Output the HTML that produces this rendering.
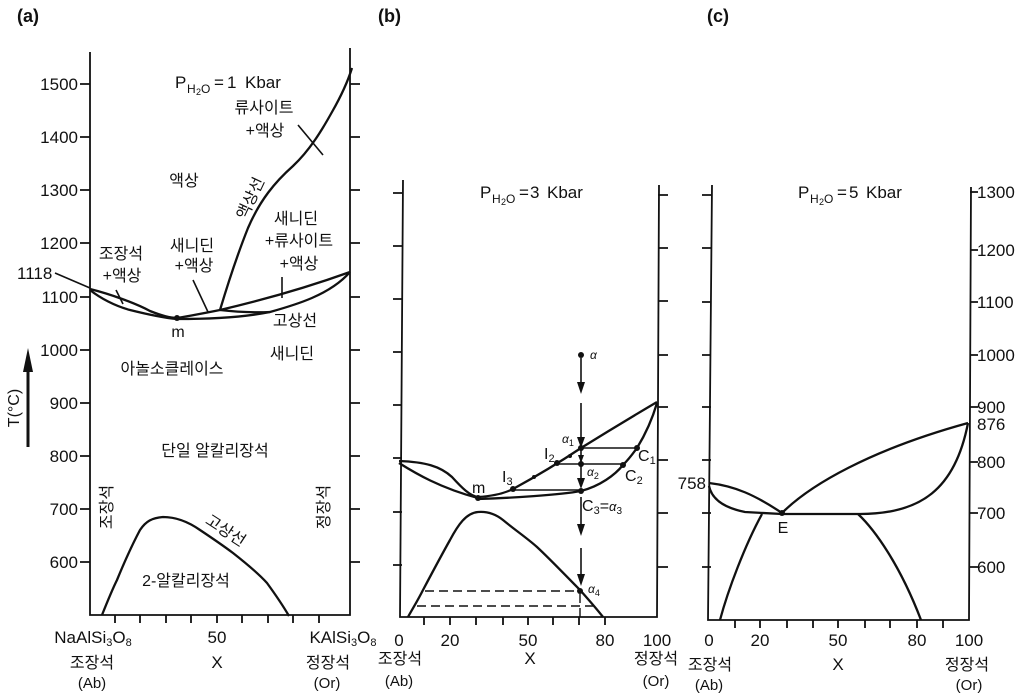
<!DOCTYPE html>
<html><head><meta charset="utf-8"><style>
html,body{margin:0;padding:0;background:#fff;}
svg{display:block;}
text{font-family:"Liberation Sans","Noto Sans CJK KR",sans-serif;fill:#111;}
.k{font-size:16px;}
.n{font-size:17px;}
</style></head><body>
<svg width="1024" height="700" viewBox="0 0 1024 700" xmlns="http://www.w3.org/2000/svg">
<rect width="1024" height="700" fill="#fff"/>

<!-- ===== Panel (a) ===== -->
<text x="17" y="22" font-size="18" font-weight="bold">(a)</text>
<g stroke="#111" fill="none" stroke-width="1.8">
  <path d="M90,52 L90,615 L350,615 L350,48"/>
  <path d="M80,84H90M80,137H90M80,190H90M80,243H90M80,297H90M80,350H90M80,403H90M80,456H90M80,509H90M80,562H90"/>
  <path d="M350,84H360M350,137H360M350,190H360M350,243H360M350,297H360M350,350H360M350,403H360M350,456H360M350,509H360M350,562H360"/>
  <path d="M115,615V623M140,615V623M166,615V623M191,615V623M217,615V623M242,615V623M268,615V623M293,615V623M319,615V623"/>
</g>
<g stroke="#111" fill="none" stroke-width="2.3">
  <path d="M90,289 C110,294 135,303 150,311 C160,315 170,318 177,318"/>
  <path d="M90,290 C100,298 115,306 130,310 C150,315 165,318 177,319"/>
  <path d="M177,318 C195,315 210,312 220,310 C250,303 300,290 350,272"/>
  <path d="M177,319 C205,319 240,318 270,312 C295,305 330,295 350,272"/>
  <path d="M220,310 Q245,313 270,312"/>
  <path d="M220,310 C226,290 236,258 248,228 C260,200 275,182 293,166 C310,150 322,130 332,112 C340,98 347,84 352,68"/>
  <path d="M102,615 C108,600 112,590 117,580 C124,563 132,545 140,530 C146,521 152,518 163,517 C178,517 190,523 200,530 C215,540 225,547 233,553 C247,564 258,573 267,583 C275,594 282,604 289,616"/>
</g>
<g stroke="#111" fill="none" stroke-width="1.6">
  <path d="M55,273 L90,288"/>
  <path d="M116,290 L123,304"/>
  <path d="M193,280 L208,312"/>
  <path d="M282,277 L282,298"/>
  <path d="M298,125 L323,155"/>
</g>
<circle cx="177" cy="318" r="3" fill="#111"/>

<g class="n" text-anchor="end">
  <text x="78" y="90">1500</text><text x="78" y="143">1400</text><text x="78" y="196">1300</text>
  <text x="78" y="249">1200</text><text x="78" y="303">1100</text><text x="78" y="356">1000</text>
  <text x="78" y="409">900</text><text x="78" y="462">800</text><text x="78" y="515">700</text>
  <text x="78" y="568">600</text>
</g>
<text class="n" x="17" y="279">1118</text>
<text font-size="16" transform="translate(19,408) rotate(-90)" text-anchor="middle">T(°C)</text>
<path d="M28,447 L28,368" stroke="#111" stroke-width="3"/>
<polygon points="23,372 33,372 28,348" fill="#111"/>

<g>
  <text x="175" y="88" font-size="17">P</text>
  <text x="187" y="93" font-size="12">H</text>
  <text x="196" y="95" font-size="9">2</text>
  <text x="201" y="93" font-size="12">O</text>
  <text x="214" y="88" font-size="17">=</text>
  <text x="227" y="88" font-size="17">1</text>
  <text x="245" y="88" font-size="17">Kbar</text>
</g>

<g class="k" text-anchor="middle">
  <text x="264" y="113">류사이트</text>
  <text x="265" y="136">+액상</text>
  <text x="184" y="186">액상</text>
  <text x="296" y="224">새니딘</text>
  <text x="299" y="246">+류사이트</text>
  <text x="299" y="269">+액상</text>
  <text x="121" y="259">조장석</text>
  <text x="122" y="281">+액상</text>
  <text x="192" y="251">새니딘</text>
  <text x="194" y="271">+액상</text>
  <text x="295" y="326">고상선</text>
  <text x="292" y="359">새니딘</text>
  <text x="172" y="374">아놀소클레이스</text>
  <text x="215" y="456">단일 알칼리장석</text>
  <text x="186" y="586">2-알칼리장석</text>
  <text transform="translate(250,198) rotate(-65)" dy="6">액상선</text>
  <text transform="translate(226,530) rotate(33)" dy="6">고상선</text>
  <text font-size="16" transform="translate(106,507) rotate(-90)" dy="6">조장석</text>
  <text font-size="16" transform="translate(323,507) rotate(-90)" dy="6">정장석</text>
</g>
<text x="178" y="337" font-size="16" text-anchor="middle">m</text>

<g class="n" text-anchor="middle">
  <text x="93" y="643">NaAlSi<tspan font-size="11" dy="3">3</tspan><tspan dy="-3">O</tspan><tspan font-size="11" dy="3">8</tspan></text>
  <text x="217" y="643">50</text>
  <text x="343" y="643">KAlSi<tspan font-size="11" dy="3">3</tspan><tspan dy="-3">O</tspan><tspan font-size="11" dy="3">8</tspan></text>
  <text x="217" y="668">X</text>
</g>
<g class="k" text-anchor="middle">
  <text x="92" y="668">조장석</text>
  <text x="328" y="668">정장석</text>
  <text x="92" y="688" font-size="15">(Ab)</text>
  <text x="327" y="688" font-size="15">(Or)</text>
</g>

<!-- ===== Panel (b) ===== -->
<text x="378" y="22" font-size="18" font-weight="bold">(b)</text>
<g stroke="#111" fill="none" stroke-width="1.8">
  <path d="M403,180 L400,617 L657,617 L659,185"/>
  <path d="M393,193H402M393,246H402M393,299H402M393,352H402M393,405H402M393,458H402M393,512H402M393,565H402"/>
  <path d="M658,195H668M658,248H668M658,301H668M658,355H668M658,407H668M658,460H668M658,513H668M658,567H668"/>
  <path d="M424,617V625M450,617V625M476,617V625M503,617V625M528,617V625M553,617V625M579,617V625M605,617V625"/>
</g>
<g stroke="#111" fill="none" stroke-width="2.3">
  <path d="M399,461 C425,462 440,466 452,477 C462,488 470,496 478,497"/>
  <path d="M399,463 C415,473 440,488 478,498"/>
  <path d="M478,497 C495,496 505,493 513,489 C535,477 560,462 581,448 C610,430 635,415 657,402"/>
  <path d="M478,499 C510,498 560,495 581,491 C600,486 615,475 623,465 C630,458 634,452 637,448 C645,435 652,420 657,403"/>
  <path d="M408,617 C413,608 418,600 423,590 C432,573 441,556 450,540 C458,525 466,513 478,512 C490,511 498,516 503,520 C515,530 527,538 537,547 C552,561 566,576 580,590 C588,599 596,608 603,617"/>
</g>
<g stroke="#111" fill="none" stroke-width="1.6">
  <path d="M581,448 L637,448"/>
  <path d="M557,464 L623,464"/>
  <path d="M513,490 L581,490"/>
  <path d="M581,358 L581,384"/>
  <path d="M581,403 L581,440"/>
  <path d="M581,450 L581,482"/>
  <path d="M581,497 L581,527"/>
  <path d="M581,548 L581,577"/>
</g>
<g stroke="#111" fill="none" stroke-width="1.4" stroke-dasharray="9,5">
  <path d="M580,594 L580,618"/>
  <path d="M425,591 L580,591"/>
  <path d="M417,606 L593,606"/>
</g>
<g fill="#111">
  <polygon points="577,382 585,382 581,394"/>
  <polygon points="577,437 585,437 581,448"/>
  <polygon points="578,455 584,455 581,463"/>
  <polygon points="577,478 585,478 581,489"/>
  <polygon points="577,524 585,524 581,536"/>
  <polygon points="577,574 585,574 581,586"/>
  <circle cx="581" cy="355" r="3"/>
  <circle cx="513" cy="489" r="3"/>
  <circle cx="557" cy="463" r="3"/>
  <circle cx="581" cy="448" r="3"/>
  <circle cx="581" cy="464" r="3"/>
  <circle cx="581" cy="491" r="3"/>
  <circle cx="623" cy="465" r="3"/>
  <circle cx="637" cy="448" r="3"/>
  <circle cx="478" cy="498" r="3"/>
  <circle cx="580" cy="591" r="3"/>
  <circle cx="534" cy="477" r="2"/>
  <circle cx="570" cy="456" r="2"/>
</g>
<g>
  <text x="480" y="198" font-size="17">P</text>
  <text x="492" y="203" font-size="12">H</text>
  <text x="501" y="205" font-size="9">2</text>
  <text x="506" y="203" font-size="12">O</text>
  <text x="519" y="198" font-size="17">=</text>
  <text x="530" y="198" font-size="17">3</text>
  <text x="547" y="198" font-size="17">Kbar</text>
</g>
<g font-size="12" font-style="italic">
  <text x="590" y="359">α</text>
  <text x="562" y="443">α<tspan font-size="9" dy="3" font-style="normal">1</tspan></text>
  <text x="587" y="476">α<tspan font-size="9" dy="3" font-style="normal">2</tspan></text>
  <text x="588" y="593">α<tspan font-size="9" dy="3" font-style="normal">4</tspan></text>
</g>
<g font-size="16">
  <text x="544" y="459">I<tspan font-size="11" dy="3">2</tspan></text>
  <text x="502" y="482">I<tspan font-size="11" dy="3">3</tspan></text>
  <text x="472" y="493">m</text>
  <text x="638" y="461">C<tspan font-size="11" dy="3">1</tspan></text>
  <text x="625" y="481">C<tspan font-size="11" dy="3">2</tspan></text>
  <text x="582" y="511">C<tspan font-size="11" dy="3">3</tspan><tspan dy="-3">=</tspan><tspan font-style="italic" font-size="13">α</tspan><tspan font-size="10" dy="3">3</tspan></text>
</g>
<g class="n" text-anchor="middle">
  <text x="399" y="646">0</text><text x="450" y="646">20</text><text x="528" y="646">50</text>
  <text x="605" y="646">80</text><text x="657" y="646">100</text>
  <text x="530" y="664">X</text>
</g>
<g class="k" text-anchor="middle">
  <text x="400" y="664">조장석</text>
  <text x="656" y="664">정장석</text>
  <text x="399" y="686" font-size="15">(Ab)</text>
  <text x="656" y="686" font-size="15">(Or)</text>
</g>

<!-- ===== Panel (c) ===== -->
<text x="707" y="22" font-size="18" font-weight="bold">(c)</text>
<g stroke="#111" fill="none" stroke-width="1.8">
  <path d="M712,185 L708,620 L969,620 L971,187"/>
  <path d="M702,195H711M702,248H711M702,302H711M702,355H711M702,407H711M702,460H711M702,513H711M702,567H711"/>
  <path d="M970,192H978M970,250H978M970,302H978M970,355H978M970,407H978M970,462H978M970,513H978M970,567H978"/>
  <path d="M735,620V628M760,620V628M787,620V628M813,620V628M838,620V628M865,620V628M890,620V628M917,620V628M943,620V628"/>
</g>
<g stroke="#111" fill="none" stroke-width="2.3">
  <path d="M709,483 C735,486 755,495 782,513"/>
  <path d="M709,486 C712,500 725,508 745,512 L782,514"/>
  <path d="M782,513 C810,485 870,450 968,423"/>
  <path d="M782,514 L860,514 C920,514 955,490 968,423"/>
  <path d="M720,620 C728,590 745,545 762,514"/>
  <path d="M858,514 C875,530 900,565 921,620"/>
</g>
<circle cx="782" cy="513" r="3" fill="#111"/>
<text x="783" y="533" font-size="16" text-anchor="middle">E</text>
<g>
  <text x="798" y="198" font-size="17">P</text>
  <text x="810" y="203" font-size="12">H</text>
  <text x="819" y="205" font-size="9">2</text>
  <text x="824" y="203" font-size="12">O</text>
  <text x="837" y="198" font-size="17">=</text>
  <text x="849" y="198" font-size="17">5</text>
  <text x="866" y="198" font-size="17">Kbar</text>
</g>
<g class="n">
  <text x="977" y="198">1300</text><text x="977" y="256">1200</text><text x="977" y="308">1100</text>
  <text x="977" y="361">1000</text><text x="977" y="413">900</text><text x="977" y="430">876</text>
  <text x="977" y="468">800</text><text x="977" y="519">700</text><text x="977" y="573">600</text>
  <text x="706" y="489" text-anchor="end">758</text>
</g>
<g class="n" text-anchor="middle">
  <text x="709" y="646">0</text><text x="760" y="646">20</text><text x="838" y="646">50</text>
  <text x="917" y="646">80</text><text x="969" y="646">100</text>
  <text x="838" y="670">X</text>
</g>
<g class="k" text-anchor="middle">
  <text x="710" y="670">조장석</text>
  <text x="967" y="670">정장석</text>
  <text x="709" y="690" font-size="15">(Ab)</text>
  <text x="969" y="690" font-size="15">(Or)</text>
</g>
</svg>
</body></html>
